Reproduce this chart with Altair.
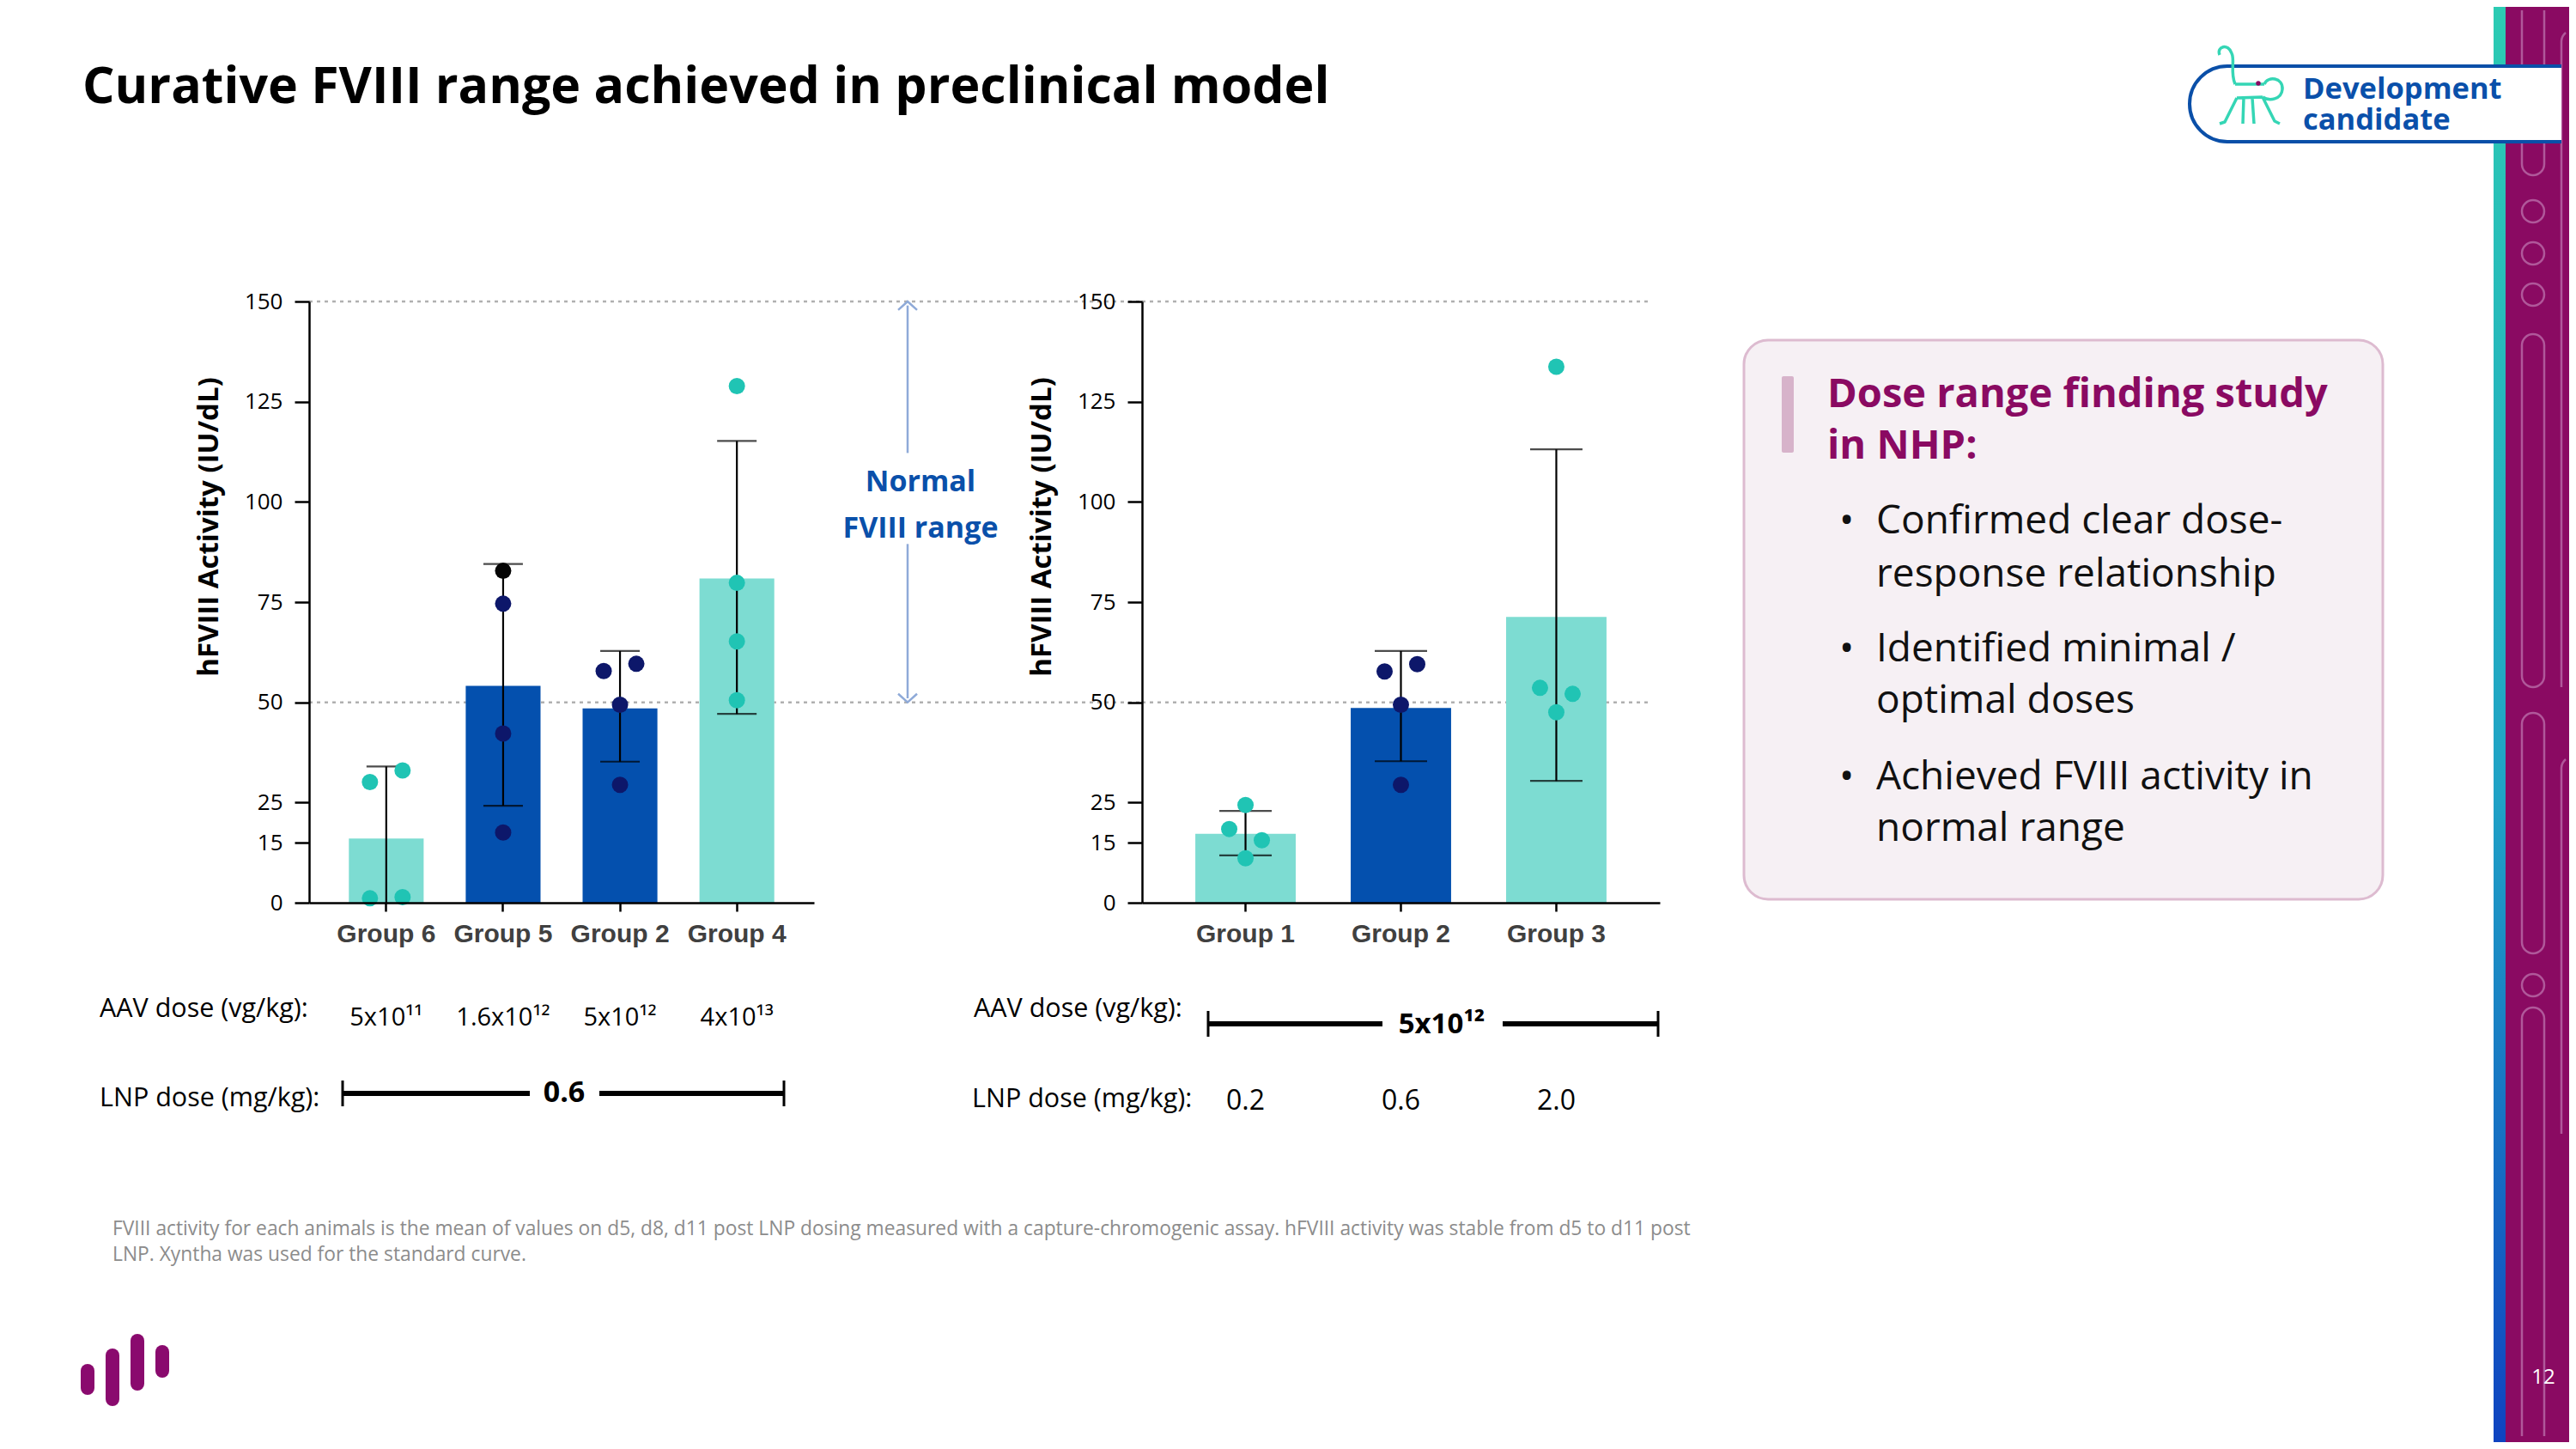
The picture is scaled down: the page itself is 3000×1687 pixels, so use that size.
import altair as alt
import pandas as pd

SANS = "Open Sans"
ARIAL = "Liberation Sans"

# ---------------- data ----------------
y_ticks = [0, 15, 25, 50, 75, 100, 125, 150]
normal_range = [50, 150]

left_groups = ["Group 6", "Group 5", "Group 2", "Group 4"]
left_mean = [16.0, 54.1, 48.5, 80.9]
left_err_lo = [0.0, 24.2, 35.2, 47.1]
left_err_hi = [34.0, 84.5, 62.8, 115.2]
left_bar_kind = ["teal bar", "blue bar", "blue bar", "teal bar"]
left_aav_dose = ["5x10¹¹", "1.6x10¹²", "5x10¹²", "4x10¹³"]

left_pt_group = ["Group 6"] * 4 + ["Group 5"] * 4 + ["Group 2"] * 4 + ["Group 4"] * 4
left_pt_value = [30.1, 33.0, 1.1, 1.4,
                 82.8, 74.6, 42.2, 17.5,
                 57.8, 59.6, 49.4, 29.4,
                 128.9, 79.8, 65.2, 50.5]
left_pt_jitter = [-1, 1, -1, 1, 0, 0, 0, 0, -1, 1, 0, 0, 0, 0, 0, 0]
left_pt_kind = ["teal dot"] * 4 + ["black dot", "navy dot", "navy dot", "navy dot"] + ["navy dot"] * 4 + ["teal dot"] * 4

right_groups = ["Group 1", "Group 2", "Group 3"]
right_mean = [17.2, 48.6, 71.3]
right_err_lo = [11.8, 35.3, 30.4]
right_err_hi = [22.9, 62.8, 113.1]
right_bar_kind = ["teal bar", "blue bar", "teal bar"]
right_lnp_dose = ["0.2", "0.6", "2.0"]

right_pt_group = ["Group 1"] * 4 + ["Group 2"] * 4 + ["Group 3"] * 4
right_pt_value = [24.4, 18.4, 15.6, 11.1,
                  57.7, 59.5, 49.4, 29.4,
                  133.7, 53.6, 52.1, 47.5]
right_pt_jitter = [0, -1, 1, 0, -1, 1, 0, 0, 0, -1, 1, 0]
right_pt_kind = ["teal dot"] * 4 + ["navy dot"] * 4 + ["teal dot"] * 4

badge_lines = ["Development", "candidate"]
bullet_lines = [
    ("•", "Confirmed clear dose-"),
    ("", "response relationship"),
    ("•", "Identified minimal /"),
    ("", "optimal doses"),
    ("•", "Achieved FVIII activity in"),
    ("", "normal range"),
]
footnote = [
    "FVIII activity for each animals is the mean of values on d5, d8, d11 post LNP dosing measured with a capture-chromogenic assay. hFVIII activity was stable from d5 to d11 post",
    "LNP. Xyntha was used for the standard curve.",
]

# ---------------- style ----------------
KIND_DOMAIN = ["teal bar", "blue bar", "teal dot", "navy dot", "black dot"]
KIND_RANGE = ["#7DDCD2", "#0450AE", "#20C4B4", "#0D176A", "#050505"]
MAGENTA = "#8A0A62"
NAVY_TXT = "#0A50AA"
ARROW = "#8FAAD8"
YTITLE = "hFVIII Activity (IU/dL)"
JITTER_PX = 19

ONE = pd.DataFrame({"k": [0]})


class Frame:
    """helpers that place annotation items in page pixels relative to a panel origin"""

    def __init__(self, ox, oy):
        self.ox, self.oy = ox, oy

    def rect(self, x, x2, y, y2, **kw):
        return alt.Chart(ONE).mark_rect(**kw).encode(
            x=alt.value(x - self.ox), x2=alt.value(x2 - self.ox),
            y=alt.value(y - self.oy), y2=alt.value(y2 - self.oy))

    def rule(self, x, x2, y, y2, **kw):
        return alt.Chart(ONE).mark_rule(**kw).encode(
            x=alt.value(x - self.ox), x2=alt.value(x2 - self.ox),
            y=alt.value(y - self.oy), y2=alt.value(y2 - self.oy))

    def txt(self, s, x, y, size, color="black", weight="normal", font=SANS,
            align="left", baseline="middle"):
        return alt.Chart(pd.DataFrame({"t": [s]})).mark_text(
            font=font, fontSize=size, fontWeight=weight, color=color,
            align=align, baseline=baseline).encode(
            text="t:N", x=alt.value(x - self.ox), y=alt.value(y - self.oy))

    def sym(self, shape, x, y, size=4, **kw):
        return alt.Chart(ONE).mark_point(shape=shape, size=size, opacity=1, strokeJoin="round", **kw).encode(
            x=alt.value(x - self.ox), y=alt.value(y - self.oy))


def y_axis():
    return alt.Axis(values=y_ticks, grid=False, zindex=1, labelFont=SANS, labelFontSize=26,
                    labelColor="black", labelPadding=14, labelOverlap=False,
                    tickColor="black", tickWidth=2.5, tickSize=17,
                    domainColor="black", domainWidth=2.5,
                    titleFont=SANS, titleFontSize=33, titleFontWeight="bold",
                    titleColor="black", titleAngle=270, titleAlign="center",
                    titleBaseline="middle", titleX=-117, titleY=262)


def x_axis():
    return alt.Axis(zindex=1, labelFont=ARIAL, labelFontSize=30, labelFontWeight="bold",
                    labelColor="#404040", labelAngle=0, labelPadding=11,
                    tickColor="black", tickWidth=2.5, tickSize=10,
                    domainColor="black", domainWidth=2.5)


def panel_layers(groups, mean, lo, hi, kind, pg, pv, pj, pk, width, p_in, p_out, cap, rule_x2):
    ysc = alt.Scale(domain=[0, 150], nice=False, zero=True)
    xsc = alt.Scale(domain=groups, paddingInner=p_in, paddingOuter=p_out)

    def X():
        return alt.X("group:N", scale=xsc, sort=groups, title=None, axis=x_axis())

    def Y(f):
        return alt.Y(f, scale=ysc, title=YTITLE, axis=y_axis())

    bars = pd.DataFrame({"group": groups, "mean": mean, "lo": lo, "hi": hi, "kind": kind})
    pts = pd.DataFrame({"group": pg, "value": pv, "jitter": pj, "kind": pk})
    color = alt.Color("kind:N", scale=alt.Scale(domain=KIND_DOMAIN, range=KIND_RANGE), legend=None)

    dotted = alt.Chart(pd.DataFrame({"v": normal_range})).mark_rule(
        strokeDash=[4, 5], color="#B0B0B0", strokeWidth=2.5).encode(
        y=Y("v:Q"), x=alt.value(0), x2=alt.value(rule_x2))
    bar = alt.Chart(bars).mark_bar().encode(x=X(), y=Y("mean:Q"), color=color)
    err = alt.Chart(bars).mark_rule(color="black", strokeWidth=2.2).encode(
        x=X(), y=Y("lo:Q"), y2="hi:Q")
    cap_hi = alt.Chart(bars).mark_tick(color="black", thickness=2.2, size=cap).encode(
        x=X(), y=Y("hi:Q"))
    cap_lo = alt.Chart(bars).transform_filter("datum.lo > 0").mark_tick(
        color="black", thickness=2.2, size=cap).encode(x=X(), y=Y("lo:Q"))
    dots = []
    for j in (-1, 0, 1):
        dots.append(alt.Chart(pts).transform_filter(f"datum.jitter == {j}").mark_circle(
            size=361, opacity=1, xOffset=j * JITTER_PX).encode(
            x=X(), y=Y("value:Q"), color=color))
    return X, Y, [dotted, bar, err, cap_hi, cap_lo, *dots]


# ---------------- left panel (origin page 360,351) ----------------
A = Frame(360, 351)
XA, YA, left_core = panel_layers(left_groups, left_mean, left_err_lo, left_err_hi, left_bar_kind,
                                 left_pt_group, left_pt_value, left_pt_jitter, left_pt_kind,
                                 588, 0.36, 0.34, 46, 970)

deco = []
deco.append(A.rect(8, 2992, 8, 1679, fill="white"))
# right stripe
deco.append(A.rect(2918, 2992, 8, 1679, fill=MAGENTA))
deco.append(A.rect(2904, 2918, 8, 1679, color=alt.Gradient(
    gradient="linear",
    stops=[alt.GradientStop(color="#2CCBB3", offset=0),
           alt.GradientStop(color="#1FA2C6", offset=0.55),
           alt.GradientStop(color="#0F43C0", offset=1)],
    x1=0, x2=0, y1=0, y2=1)))
LINE = "#B0589A"
deco.append(A.sym("M-13,-179 L-13,0 A13,13 0 0 0 13,0 L13,-179", 2950, 191,
                  filled=False, stroke=LINE, strokeWidth=2.5))
for cy in [246, 295, 343, 1147]:
    deco.append(A.sym("circle", 2950, cy, size=676, filled=False, stroke=LINE, strokeWidth=2.5))
deco.append(A.rect(2937, 2963, 389, 800, fill="transparent", stroke=LINE, strokeWidth=2.5, cornerRadius=13))
deco.append(A.rect(2937, 2963, 830, 1110, fill="transparent", stroke=LINE, strokeWidth=2.5, cornerRadius=13))
deco.append(A.sym("M-13,486 L-13,0 A13,13 0 0 1 13,0 L13,486", 2950, 1186,
                  filled=False, stroke=LINE, strokeWidth=2.5))
deco.append(A.sym("M0,780 L0,28 A14,14 0 0 1 5,18", 2983, 20, filled=False, stroke=LINE, strokeWidth=2.5))
deco.append(A.sym("M0,440 L0,14 A14,14 0 0 1 5,4", 2983, 880, filled=False, stroke=LINE, strokeWidth=2.5))
deco.append(A.txt("12", 2962, 1604, 24, color="white", align="center"))

# development candidate pill
deco.append(A.sym("M383,-44 L-6,-44 A44,44 0 0 0 -6,44 L383,44", 2600, 121,
                  filled=True, fill="white", stroke="#0A4FA8", strokeWidth=4))
deco.append(A.sym("M-18,-2 C-24,-16 -18,-30 -22,-38 C-26,-50 -40,-46 -36,-36 "
                  "M-18,-2 L16,-2 M-16,14 L14,13 "
                  "M16,-2 C20,-12 38,-10 37,4 C36,16 22,18 14,13 "
                  "M-16,14 L-30,42 L-36,44 M-8,14 L-9,44 M2,14 L4,44 M14,13 L28,41 L34,44",
                  2621, 100, filled=False, stroke="#35D6B5", strokeWidth=3.5))
deco.append(A.sym("circle", 2630, 97, size=30, filled=True, color=MAGENTA))
for line, yy in zip(badge_lines, [105, 141]):
    deco.append(A.txt(line, 2682, yy, 34.5, color=NAVY_TXT, weight="bold"))

# title
deco.append(A.txt("Curative FVIII range achieved in preclinical model", 96, 120, 59,
                  weight="bold", baseline="alphabetic"))

# right text box
deco.append(A.rect(2031, 2775, 396, 1047, fill="#F6F0F4", stroke="#DDBBD0", strokeWidth=3, cornerRadius=28))
deco.append(A.rect(2075, 2089, 438, 527, fill="#D7B3CA", cornerRadius=2))
deco.append(A.txt("Dose range finding study", 2128, 460, 47, color=MAGENTA, weight="bold"))
deco.append(A.txt("in NHP:", 2128, 520, 47, color=MAGENTA, weight="bold"))
for (b, line), yy in zip(bullet_lines, [607, 669, 756, 816, 905, 965]):
    if b:
        deco.append(A.txt(b, 2142, yy, 46, color="#111111"))
    deco.append(A.txt(line, 2185, yy, 46, color="#111111"))

# footnote
for line, yy in zip(footnote, [1431, 1461]):
    deco.append(A.txt(line, 131, yy, 22.8, color="#8C8C8C"))

# logo
for lx, y1, y2 in [(102, 1596, 1616), (131, 1578, 1629), (160, 1561, 1611), (189, 1574, 1596)]:
    deco.append(A.rule(lx, lx, y1, y2, color="#8A0A6E", strokeWidth=16, strokeCap="round"))

# left dose rows
deco.append(A.txt("AAV dose (vg/kg):", 116, 1175, 30.5))
deco.append(A.txt("LNP dose (mg/kg):", 116, 1279, 30.5))
deco.append(alt.Chart(pd.DataFrame({"group": left_groups, "dose": left_aav_dose})).mark_text(
    font=SANS, fontSize=29, color="black", baseline="middle").encode(
    x=XA(), text="dose:N", y=alt.value(1185 - 351)))
deco.append(A.rule(399, 617, 1273, 1273, color="black", strokeWidth=6))
deco.append(A.rule(698, 913, 1273, 1273, color="black", strokeWidth=6))
deco.append(A.rule(399, 399, 1258, 1288, color="black", strokeWidth=3))
deco.append(A.rule(913, 913, 1258, 1288, color="black", strokeWidth=3))
deco.append(A.txt("0.6", 657, 1273, 34, weight="bold", align="center"))

# normal range arrow
ax = 1057 - 360
arrow = [
    alt.Chart(pd.DataFrame({"a": [149.0, 89.5], "b": [112.2, 51.0]})).mark_rule(
        color=ARROW, strokeWidth=2.5).encode(x=alt.value(ax), y=YA("a:Q"), y2="b:Q"),
    alt.Chart(pd.DataFrame({"v": [normal_range[1]]})).mark_point(
        shape="M-1,0.9 L0,0 L1,0.9", size=484, filled=False, color=ARROW, strokeWidth=2.5, opacity=1).encode(
        x=alt.value(ax), y=YA("v:Q")),
    alt.Chart(pd.DataFrame({"v": [normal_range[0]]})).mark_point(
        shape="M-1,-0.9 L0,0 L1,-0.9", size=484, filled=False, color=ARROW, strokeWidth=2.5, opacity=1).encode(
        x=alt.value(ax), y=YA("v:Q")),
    alt.Chart(pd.DataFrame({"t": ["Normal", "FVIII range"], "v": [104.8, 93.2]})).mark_text(
        font=SANS, fontSize=34, fontWeight="bold", color=NAVY_TXT, baseline="middle").encode(
        text="t:N", x=alt.value(1072 - 360), y=YA("v:Q")),
]

left = alt.layer(*deco, *left_core, *arrow).properties(width=588, height=700)

# ---------------- right panel (origin page 1330,351) ----------------
B = Frame(1330, 351)
XB, YB, right_core = panel_layers(right_groups, right_mean, right_err_lo, right_err_hi, right_bar_kind,
                                  right_pt_group, right_pt_value, right_pt_jitter, right_pt_kind,
                                  603, 0.354, 0.343, 61, 590)
rdeco = [
    B.txt("AAV dose (vg/kg):", 1134, 1175, 30.5),
    B.txt("LNP dose (mg/kg):", 1132, 1280, 30.5),
    B.rule(1407, 1610, 1192, 1192, color="black", strokeWidth=6),
    B.rule(1750, 1931, 1192, 1192, color="black", strokeWidth=6),
    B.rule(1407, 1407, 1177, 1207, color="black", strokeWidth=3),
    B.rule(1931, 1931, 1177, 1207, color="black", strokeWidth=3),
    B.txt("5x10¹²", 1679, 1193, 33, weight="bold", align="center"),
    alt.Chart(pd.DataFrame({"group": right_groups, "dose": right_lnp_dose})).mark_text(
        font=SANS, fontSize=32, color="black", baseline="middle").encode(
        x=XB(), text="dose:N", y=alt.value(1282 - 351)),
]
right = alt.layer(*right_core, *rdeco).properties(width=603, height=700)

chart = alt.hconcat(left, right, spacing=382, bounds="flush", padding=0,
                    background="white").configure_view(strokeWidth=0)

chart.save("out.html", embed_options={"renderer": "svg", "actions": False})
